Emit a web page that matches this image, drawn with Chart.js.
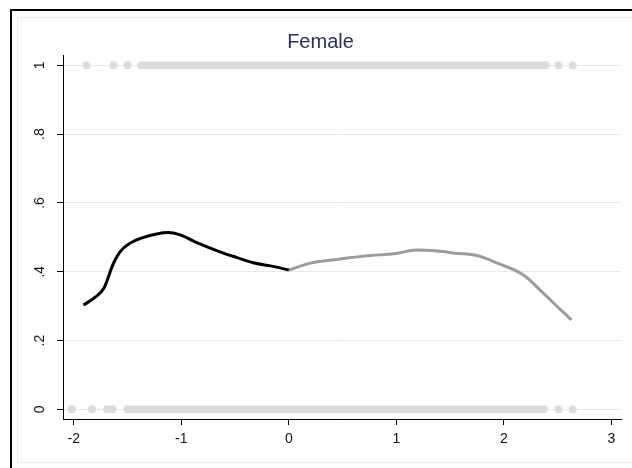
<!DOCTYPE html>
<html>
<head>
<meta charset="utf-8">
<script src="https://cdn.jsdelivr.net/npm/chart.js@4.4.1/dist/chart.umd.min.js"></script>
<style>
    html, body { margin: 0; padding: 0; background: #ffffff; overflow: hidden; }
    #wrap { width: 632px; height: 468px; position: relative; }
</style>
</head>
<body>
<div id="wrap"><canvas id="chart"></canvas></div>
<script>
// Observed outcomes (1 = yes, 0 = no) plotted along the score
const topX = [-1.88, -1.63, -1.50, -1.37, -1.33, -1.28, -1.24, -1.19, -1.15, -1.10, -1.06, -1.01,
    -0.97, -0.92, -0.88, -0.83, -0.79, -0.74, -0.70, -0.65, -0.61, -0.56, -0.52, -0.47, -0.43,
    -0.38, -0.34, -0.29, -0.25, -0.20, -0.16, -0.11, -0.07, -0.02, 0.02, 0.07, 0.11, 0.16, 0.20,
    0.25, 0.29, 0.34, 0.38, 0.43, 0.47, 0.52, 0.56, 0.61, 0.65, 0.70, 0.74, 0.79, 0.83, 0.88,
    0.92, 0.97, 1.01, 1.06, 1.10, 1.15, 1.19, 1.24, 1.28, 1.33, 1.37, 1.42, 1.46, 1.51, 1.55,
    1.60, 1.64, 1.69, 1.73, 1.78, 1.82, 1.87, 1.91, 1.96, 2.00, 2.05, 2.09, 2.14, 2.18, 2.23,
    2.27, 2.32, 2.36, 2.39, 2.51, 2.64];
const bottomX = [-2.02, -1.83, -1.69, -1.64, -1.50, -1.46, -1.41, -1.37, -1.32, -1.28, -1.23,
    -1.19, -1.14, -1.10, -1.05, -1.01, -0.96, -0.92, -0.87, -0.83, -0.78, -0.74, -0.69, -0.65,
    -0.60, -0.56, -0.51, -0.47, -0.42, -0.38, -0.33, -0.29, -0.24, -0.20, -0.15, -0.11, -0.06,
    -0.02, 0.03, 0.07, 0.12, 0.16, 0.21, 0.25, 0.30, 0.34, 0.39, 0.43, 0.48, 0.52, 0.57, 0.61,
    0.66, 0.70, 0.75, 0.79, 0.84, 0.88, 0.93, 0.97, 1.02, 1.06, 1.11, 1.15, 1.20, 1.24, 1.29,
    1.33, 1.38, 1.42, 1.47, 1.51, 1.56, 1.60, 1.65, 1.69, 1.74, 1.78, 1.83, 1.87, 1.92, 1.96,
    2.01, 2.05, 2.10, 2.14, 2.19, 2.23, 2.28, 2.32, 2.37, 2.51, 2.64];

// Smoothed fit, below and above the cutoff at 0
const belowX = [-1.91, -1.80, -1.72, -1.63, -1.57, -1.47, -1.35, -1.23, -1.12, -1.01, -0.85,
    -0.64, -0.48, -0.33, -0.17, 0];
const belowY = [0.303, 0.326, 0.352, 0.425, 0.458, 0.484, 0.500, 0.510, 0.514, 0.507, 0.484,
    0.458, 0.441, 0.426, 0.417, 0.405];
const aboveX = [0, 0.20, 0.48, 0.76, 0.975, 1.19, 1.38, 1.55, 1.75, 1.94, 2.18, 2.37, 2.53, 2.63];
const aboveY = [0.405, 0.425, 0.437, 0.447, 0.452, 0.463, 0.460, 0.454, 0.447, 0.425, 0.391,
    0.337, 0.289, 0.260];

const xTicks = [-2, -1, 0, 1, 2, 3];
const yTicks = [0, 0.2, 0.4, 0.6, 0.8, 1];
const yTickLabels = ['0', '.2', '.4', '.6', '.8', '1'];

const FONT = "'Liberation Sans', Arial, sans-serif";
const GRID = '#e3ebf0';

/**
 * Stata-like graph frame behind the plot
 */
const framePlugin = {
    id: 'frame',
    beforeDraw(chart) {
        const c = chart.ctx;
        c.save();
        c.fillStyle = '#ffffff';
        c.fillRect(0, 0, chart.width, chart.height);
        c.strokeStyle = '#e6eef2';
        c.lineWidth = 1;
        c.strokeRect(17.5, 17.5, 660, 445);
        c.fillStyle = '#000000';
        c.fillRect(10, 9, 622, 2);
        c.fillRect(10, 9, 2, 459);
        c.restore();
    }
};

const toPoints = (xs, ys) => xs.map((x, i) => ({ x: x, y: ys[i] }));

const ctx = document.getElementById('chart').getContext('2d');
new Chart(ctx, {
    type: 'scatter',
    data: {
        datasets: [
            {
                data: topX.map(x => ({ x: x, y: 1 })),
                backgroundColor: '#dcdcdc',
                borderWidth: 0,
                pointRadius: 4,
                order: 3
            },
            {
                data: bottomX.map(x => ({ x: x, y: 0 })),
                backgroundColor: '#dcdcdc',
                borderWidth: 0,
                pointRadius: 4,
                order: 3
            },
            {
                data: toPoints(belowX, belowY),
                showLine: true,
                borderColor: '#000000',
                borderWidth: 3,
                pointRadius: 0,
                cubicInterpolationMode: 'monotone',
                order: 1
            },
            {
                data: toPoints(aboveX, aboveY),
                showLine: true,
                borderColor: '#9c9c9c',
                borderWidth: 3,
                pointRadius: 0,
                cubicInterpolationMode: 'monotone',
                order: 2
            }
        ]
    },
    options: {
        responsive: true,
        maintainAspectRatio: false,
        animation: false,
        layout: {
            padding: { top: 20, left: 20, right: 11, bottom: 10 }
        },
        plugins: {
            legend: { display: false },
            tooltip: { enabled: false },
            title: {
                display: true,
                text: 'Female',
                color: '#26325e',
                font: { family: FONT, size: 20, weight: 'normal' },
                padding: { top: 10, bottom: 1 }
            }
        },
        scales: {
            x: {
                type: 'linear',
                min: -2.1,
                max: 3.09,
                afterBuildTicks: scale => {
                    scale.ticks = xTicks.map(v => ({ value: v }));
                },
                afterFit: scale => {
                    scale.height = 39;
                },
                border: { color: '#000000', width: 1 },
                grid: {
                    drawOnChartArea: false,
                    drawTicks: true,
                    tickLength: 6,
                    tickColor: '#000000'
                },
                ticks: {
                    color: '#111111',
                    padding: 6,
                    maxRotation: 0,
                    font: { family: FONT, size: 14 },
                    callback: value => String(value)
                }
            },
            y: {
                type: 'linear',
                min: -0.028,
                max: 1.03,
                afterBuildTicks: scale => {
                    scale.ticks = yTicks.map(v => ({ value: v }));
                },
                afterFit: scale => {
                    scale.width = 43;
                },
                border: { color: '#000000', width: 1 },
                grid: {
                    color: GRID,
                    drawTicks: true,
                    tickLength: 6,
                    tickColor: '#000000'
                },
                ticks: {
                    color: '#111111',
                    padding: 11,
                    minRotation: 90,
                    maxRotation: 90,
                    crossAlign: 'center',
                    font: { family: FONT, size: 14 },
                    callback: value => yTickLabels[yTicks.indexOf(value)]
                }
            }
        }
    },
    plugins: [framePlugin]
});
</script>
</body>
</html>
